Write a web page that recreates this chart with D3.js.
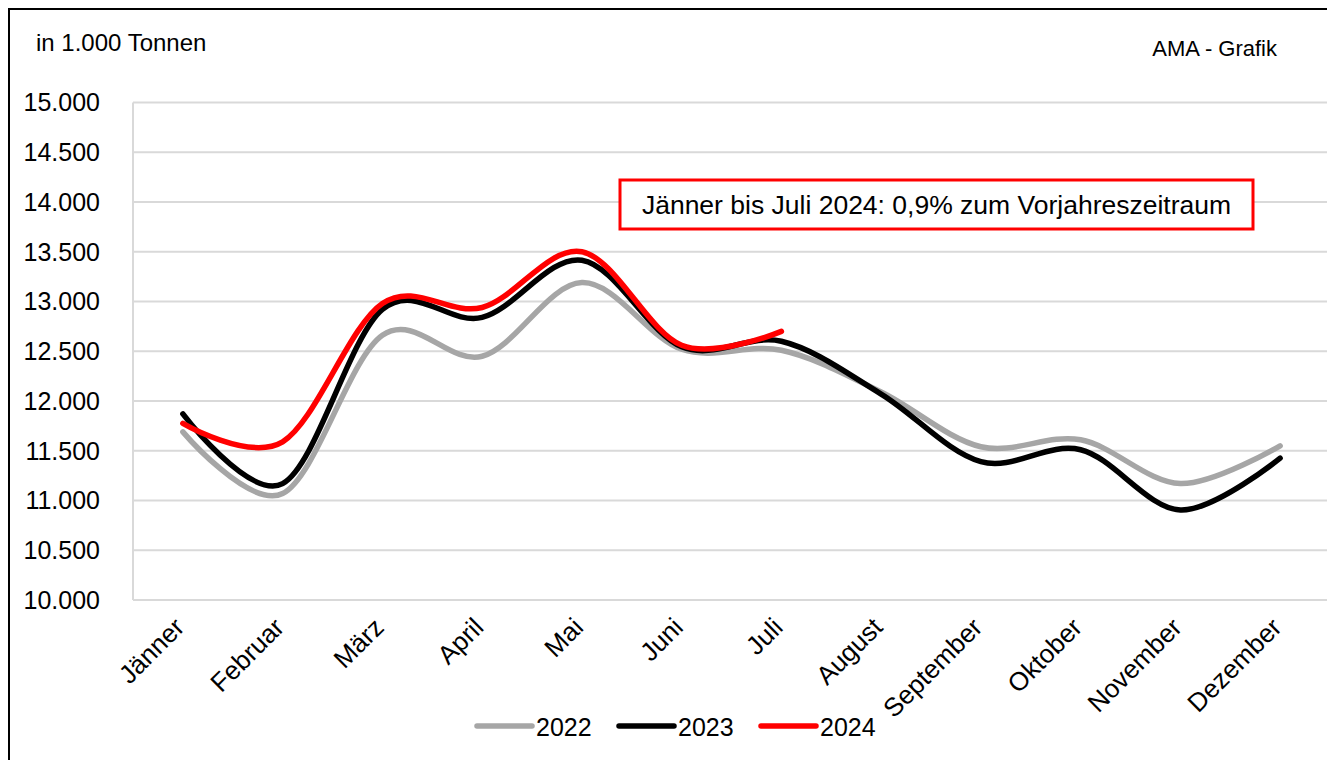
<!DOCTYPE html>
<html lang="de">
<head>
<meta charset="UTF-8">
<title>Tonnen 2022-2024</title>
<style>
  body { margin: 0; background: #fff; }
  text { font-family: "Liberation Sans", Arial, sans-serif; fill: #000; }
</style>
</head>
<body>
<script src="https://cdn.jsdelivr.net/npm/d3@7"></script>
<script>
// data (in 1.000 Tonnen)
const months = ["Jänner", "Februar", "März", "April", "Mai", "Juni", "Juli",
  "August", "September", "Oktober", "November", "Dezember"];
const years = ["2022", "2023", "2024"];
const v2022 = [11690, 11070, 12660, 12450, 13190, 12520, 12510, 12090, 11540, 11610, 11170, 11550];
const v2023 = [11870, 11170, 12920, 12840, 13415, 12545, 12600, 12070, 11390, 11510, 10905, 11425];
const v2024 = [11775, 11590, 12980, 12940, 13500, 12560, 12700];
const yTicks = [10000, 10500, 11000, 11500, 12000, 12500, 13000, 13500, 14000, 14500, 15000];
const note = "Jänner bis Juli 2024: 0,9% zum Vorjahreszeitraum";

const colors = { "2022": "#a6a6a6", "2023": "#000000", "2024": "#ff0000" };
const series = [
  { key: "2022", values: v2022 },
  { key: "2023", values: v2023 },
  { key: "2024", values: v2024 }
];

const W = 1327, H = 760;
const m = { l: 133, r: 0, t: 102.5, b: 160 };

const svg = d3.select("body").append("svg")
  .attr("width", W).attr("height", H);

// outer frame
svg.append("rect")
  .attr("x", 9).attr("y", 9)
  .attr("width", W + 20).attr("height", H + 20)
  .attr("fill", "none").attr("stroke", "#000").attr("stroke-width", 2);

const x = d3.scaleBand().domain(months).range([m.l, 1330]);
const y = d3.scaleLinear().domain([10000, 15000]).range([600, m.t]);
const fmt = d3.formatLocale({ decimal: ",", thousands: ".", grouping: [3] }).format(",");

// gridlines
svg.append("g").selectAll("line").data(yTicks).join("line")
  .attr("x1", m.l).attr("x2", W)
  .attr("y1", d => y(d)).attr("y2", d => y(d))
  .attr("stroke", "#d9d9d9").attr("stroke-width", 2);

svg.append("line")
  .attr("x1", m.l).attr("x2", m.l)
  .attr("y1", y(15000)).attr("y2", y(10000))
  .attr("stroke", "#d9d9d9").attr("stroke-width", 2);

// y labels
svg.append("g").selectAll("text").data(yTicks).join("text")
  .attr("x", 100).attr("y", d => y(d)).attr("dy", "0.35em")
  .attr("text-anchor", "end").style("font-size", "25px")
  .text(d => fmt(d));

// x labels
svg.append("g").selectAll("text").data(months).join("text")
  .attr("transform", d => `translate(${x(d) + x.bandwidth() / 2 + 3},${629}) rotate(-45)`)
  .attr("text-anchor", "end").style("font-size", "26px")
  .text(d => d);

// lines
const line = d3.line()
  .x((d, i) => x(months[i]) + x.bandwidth() / 2)
  .y(d => y(d))
  .curve(d3.curveCatmullRom.alpha(0));

svg.append("g").selectAll("path").data(series).join("path")
  .attr("d", d => line(d.values))
  .attr("fill", "none")
  .attr("stroke", d => colors[d.key])
  .attr("stroke-width", 5.5)
  .attr("stroke-linecap", "round")
  .attr("stroke-linejoin", "round");

// texts
svg.append("text").attr("x", 36).attr("y", 51)
  .style("font-size", "24px").text("in 1.000 Tonnen");
svg.append("text").attr("x", 1277).attr("y", 56)
  .attr("text-anchor", "end").style("font-size", "22px").text("AMA - Grafik");

// note box
svg.append("rect")
  .attr("x", 620).attr("y", 180).attr("width", 633).attr("height", 49)
  .attr("fill", "#fff").attr("stroke", "#ff0000").attr("stroke-width", 3);
svg.append("text").attr("x", 936.5).attr("y", 214)
  .attr("text-anchor", "middle").style("font-size", "26.5px").text(note);

// legend
const lx = [477, 619, 761];
const lg = svg.append("g").selectAll("g").data(years).join("g")
  .attr("transform", (d, i) => `translate(${lx[i]},726)`);
lg.append("line")
  .attr("x1", 0).attr("x2", 55)
  .attr("stroke", d => colors[d]).attr("stroke-width", 5.5)
  .attr("stroke-linecap", "round");
lg.append("text").attr("x", 59).attr("y", 9.5)
  .style("font-size", "25px").text(d => d);
</script>
</body>
</html>
